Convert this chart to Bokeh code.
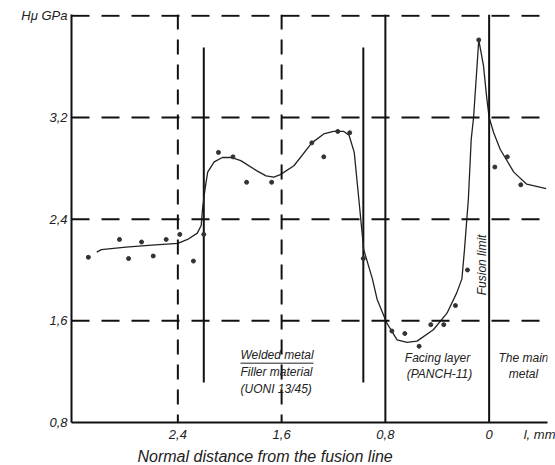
import math
from bokeh.plotting import figure
from bokeh.models import Range1d, Span, Label, FixedTicker, Title
from bokeh.embed import file_html
from bokeh.resources import INLINE

# ---- data ----
dots_x = [3.09, 2.85, 2.78, 2.68, 2.59, 2.49, 2.385, 2.28, 2.20, 2.087, 1.975, 1.87, 1.677,
          1.367, 1.275, 1.167, 1.075, 0.97, 0.75, 0.65, 0.54, 0.45, 0.35, 0.26, 0.167,
          0.08, -0.044, -0.14, -0.244]
dots_y = [2.10, 2.24, 2.09, 2.22, 2.11, 2.24, 2.28, 2.07, 2.28, 2.925, 2.89, 2.69, 2.69,
          3.00, 2.89, 3.09, 3.08, 2.09, 1.52, 1.50, 1.40, 1.57, 1.57, 1.72, 2.00,
          3.81, 2.81, 2.89, 2.67]

curve_x = [3.025, 2.99, 2.8, 2.6, 2.4, 2.325, 2.25, 2.22, 2.21, 2.19, 2.17, 2.12, 2.056,
           1.99, 1.915, 1.79, 1.72, 1.66, 1.61, 1.505, 1.367, 1.275, 1.2, 1.12, 1.08,
           1.04, 1.005, 0.967, 0.90, 0.864, 0.79, 0.71, 0.633, 0.556, 0.43, 0.325,
           0.25, 0.21, 0.19, 0.16, 0.138, 0.12, 0.08, 0.044, 0.018, 0.0, -0.035,
           -0.085, -0.19, -0.29, -0.44]
curve_y = [2.14, 2.16, 2.18, 2.195, 2.21, 2.24, 2.29, 2.35, 2.48, 2.64, 2.77, 2.85, 2.885,
           2.885, 2.86, 2.78, 2.74, 2.73, 2.75, 2.82, 3.00, 3.07, 3.09, 3.09, 3.06,
           2.925, 2.56, 2.16, 1.93, 1.77, 1.585, 1.45, 1.43, 1.44, 1.53, 1.66,
           1.82, 1.93, 2.16, 2.56, 3.03, 3.20, 3.81, 3.61, 3.35, 3.20, 3.08,
           2.95, 2.77, 2.675, 2.64]

x_ticks = [2.4, 1.6, 0.8, 0.0, -0.445]
x_tick_labels = ["2,4", "1,6", "0,8", "0", "l, mm"]
y_ticks = [0.8, 1.6, 2.4, 3.2, 4.0]
y_tick_labels = ["0,8", "1,6", "2,4", "3,2", "H\u03bc GPa"]
h_dashed = [1.6, 2.4, 3.2, 4.0]
v_dashed = [2.4, 1.6]
v_solid_full = [0.8, 0.0]
v_solid_short = [2.20, 0.97]
short_y = [1.115, 3.75]

X0, X1 = 3.22, -0.45
Y0, Y1 = 0.8, 4.01

FONT = "Liberation Sans"
INK = "#111111"
TXT = "#222222"

p = figure(width=555, height=465, output_backend="svg", toolbar_location=None,
           x_range=Range1d(X0, X1), y_range=Range1d(Y0, Y1),
           min_border_left=71, min_border_right=8, min_border_top=14, min_border_bottom=42)
p.outline_line_color = None
p.xgrid.grid_line_color = None
p.ygrid.grid_line_color = None
p.background_fill_color = "white"

for ax in (p.xaxis[0], p.yaxis[0]):
    ax.axis_line_width = 2
    ax.axis_line_color = INK
    ax.major_tick_out = 0
    ax.major_tick_in = 0
    ax.major_tick_line_color = None
    ax.minor_tick_line_color = None
    ax.major_label_text_font = FONT
    ax.major_label_text_font_style = "italic"
    ax.major_label_text_font_size = "13px"
    ax.major_label_text_color = TXT

p.xaxis.ticker = FixedTicker(ticks=x_ticks)
p.xaxis.major_label_overrides = {t: l for t, l in zip(x_ticks, x_tick_labels)}
p.xaxis.major_label_standoff = 4
p.yaxis.ticker = FixedTicker(ticks=y_ticks)
p.yaxis.major_label_overrides = {t: l for t, l in zip(y_ticks, y_tick_labels)}
p.yaxis.major_label_standoff = 4

p.add_layout(Title(text="Normal distance from the fusion line", align="left", offset=66,
                   text_font=FONT, text_font_style="italic", text_font_size="16px",
                   text_color=TXT, standoff=2), "below")

for yv in h_dashed:
    p.add_layout(Span(location=yv, dimension="width", line_color=INK, line_width=2,
                      line_dash="18 12"))
for xv in v_dashed:
    p.add_layout(Span(location=xv, dimension="height", line_color=INK, line_width=2,
                      line_dash="15 10"))
for xv in v_solid_full:
    p.add_layout(Span(location=xv, dimension="height", line_color=INK, line_width=2))
for xv in v_solid_short:
    p.line([xv, xv], short_y, line_color=INK, line_width=2)

p.line(curve_x, curve_y, line_color=TXT, line_width=1.3)
p.scatter(dots_x, dots_y, size=4, color="#333333")

def px_to_x(px):
    return X0 - (px - 71) / 129.7

def py_to_y(py):
    return Y1 - (py - 14) / 127.4

def lab(text, px, py, size="12px", align="left", angle=0.0):
    p.add_layout(Label(x=px_to_x(px), y=py_to_y(py), text=text, text_font=FONT,
                       text_font_style="italic", text_font_size=size, text_align=align,
                       text_baseline="middle", angle=angle, text_color=TXT))

# region annotations
lab("Welded metal", 240, 355)
lab("Filler material", 240, 372)
lab("(UONI 13/45)", 240, 389)
p.line([px_to_x(240), px_to_x(313)], [py_to_y(363.5)] * 2, line_color=TXT, line_width=1)
lab("Facing layer", 437, 358, align="center")
lab("(PANCH-11)", 439, 374, align="center")
lab("The main", 523, 358, align="center")
lab("metal", 523, 374, align="center")
lab("Fusion limit", 481, 265, align="center", angle=math.pi / 2)

open("out.html", "w").write(file_html(p, INLINE))
